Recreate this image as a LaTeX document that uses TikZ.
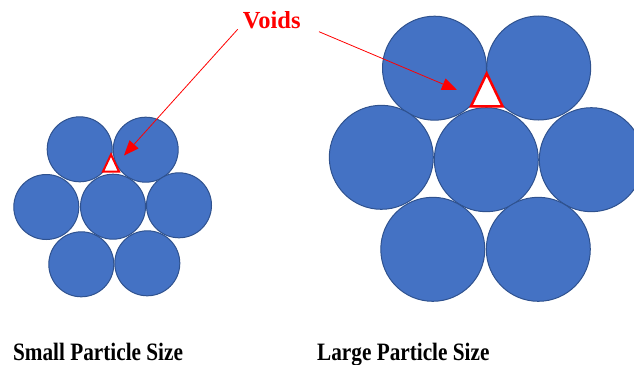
\documentclass[tikz,border=0pt]{standalone}
\usepackage{fontspec}
\setmainfont{Liberation Serif}
\usetikzlibrary{arrows.meta}
\definecolor{pblue}{HTML}{4472C4}
\definecolor{pedge}{HTML}{2F528F}
\newcommand{\narrowtext}[1]{\scalebox{0.85}[1]{#1}}
\begin{document}
\begin{tikzpicture}[x=1pt,y=-1pt,
 particle/.style={circle, fill=pblue, draw=pedge, line width=1pt, inner sep=0pt},
 smallp/.style={particle, minimum size=65pt},
 largep/.style={particle, minimum size=104pt},
 voidtri/.style={draw=red, fill=white, line join=miter},
 pointer/.style={draw=red, line width=0.8pt, -{Triangle[length=15pt,width=12pt]}},
 caption/.style={font=\bfseries\fontsize{25}{27}\selectfont, inner sep=0pt, anchor=base},
 vlabel/.style={font=\bfseries\fontsize{24.5}{26}\selectfont, text=red, inner sep=0pt, anchor=base}]
\useasboundingbox (0,0) rectangle (634,364);
\begin{scope}
\clip (0,0) rectangle (634,364);
% small particles
\node[smallp] (s1) at (79.7,149.3) {};
\node[smallp] (s2) at (145.7,149.7) {};
\node[smallp] (s3) at (46.3,207) {};
\node[smallp] (s4) at (113,206.7) {};
\node[smallp] (s5) at (179,205.3) {};
\node[smallp] (s6) at (81.3,264.3) {};
\node[smallp] (s7) at (147.3,263.3) {};
% large particles
\node[largep] (l1) at (434.5,68.2) {};
\node[largep] (l2) at (538.7,68) {};
\node[largep] (l3) at (381.3,157.3) {};
\node[largep] (l4) at (486.3,159.7) {};
\node[largep] (l5) at (591.3,159.7) {};
\node[largep] (l6) at (432.8,249.3) {};
\node[largep] (l7) at (538.3,249.3) {};
\end{scope}
% voids
\draw[voidtri, line width=2pt] (111,154.5) -- (103,171.5) -- (119,171.5) -- cycle;
\draw[voidtri, line width=2.5pt] (486.7,73.5) -- (471,106.3) -- (502.5,106.3) -- cycle;
% label and pointers
\node[vlabel] (voids) at (271.7,28.3) {Voids};
\coordinate (p1) at (237.7,29.3);
\coordinate (p2) at (319,31.7);
\coordinate (t1) at (124,155.5);
\coordinate (t2) at (457,90);
\draw[pointer] (p1) -- (t1);
\draw[pointer] (p2) -- (t2);
% captions
\node[caption] (csmall) at (98,360) {\narrowtext{Small Particle Size}};
\node[caption] (clarge) at (403.3,360) {\narrowtext{Large Particle Size}};
\end{tikzpicture}
\end{document}
